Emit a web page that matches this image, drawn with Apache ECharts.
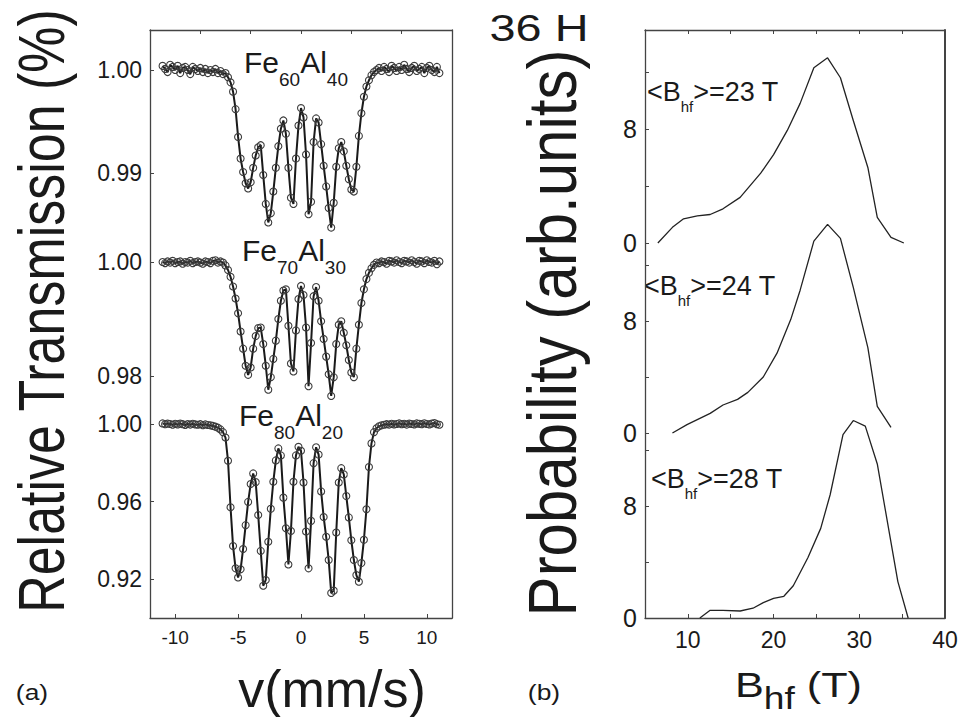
<!DOCTYPE html>
<html>
<head>
<meta charset="utf-8">
<script src="https://cdn.jsdelivr.net/npm/echarts@6.0.0/dist/echarts.min.js"></script>
<style>
  html, body { margin: 0; padding: 0; background: #fff; }
  #chart { width: 962px; height: 717px; }
</style>
</head>
<body>
<div id="chart"></div>
<script>
// velocity channels (mm/s)
const velocity = [
  -11.0, -10.8, -10.6, -10.4, -10.2, -10.0, -9.8, -9.6, -9.4, -9.2,
  -9.0, -8.8, -8.6, -8.4, -8.2, -8.0, -7.8, -7.6, -7.4, -7.2,
  -7.0, -6.8, -6.6, -6.4, -6.2,
  -6.0, -5.8, -5.6, -5.4, -5.2, -5.0, -4.8, -4.6, -4.4, -4.2,
  -4.0, -3.8, -3.6, -3.4, -3.2, -3.0, -2.8, -2.6, -2.4, -2.2,
  -2.0, -1.8, -1.6, -1.4, -1.2, -1.0, -0.8, -0.6, -0.4, -0.2,
  0.0, 0.2, 0.4, 0.6, 0.8, 1.0, 1.2, 1.4, 1.6, 1.8,
  2.0, 2.2, 2.4, 2.6, 2.8, 3.0, 3.2, 3.4, 3.6, 3.8,
  4.0, 4.2, 4.4, 4.6, 4.8, 5.0, 5.2, 5.4, 5.6, 5.8,
  6.0,
  6.2, 6.4, 6.6, 6.8, 7.0, 7.2, 7.4, 7.6, 7.8, 8.0,
  8.2, 8.4, 8.6, 8.8, 9.0, 9.2, 9.4, 9.6, 9.8, 10.0,
  10.2, 10.4, 10.6, 10.8, 11.0
];

// Fe60Al40 transmission
const transFe60 = [
  1.0004, 1.0001, 0.9998, 1.0005, 1.0003, 1.0000, 1.0004, 0.9997, 1.0002, 1.0003,
  1.0000, 0.9996, 1.0003, 1.0001, 0.9999, 1.0002, 0.9998, 1.0001, 0.9997, 1.0000,
  0.9998, 1.0001, 0.9997, 0.9999, 0.9996,
  0.9997, 0.9993, 0.9988, 0.9979, 0.9962, 0.9935, 0.9914, 0.9901, 0.9890, 0.9885,
  0.9891, 0.9905, 0.9917, 0.9925, 0.9927, 0.9898, 0.9870, 0.9852, 0.9861, 0.9882,
  0.9905, 0.9926, 0.9943, 0.9951, 0.9938, 0.9905, 0.9876, 0.9870, 0.9914, 0.9946,
  0.9963, 0.9954, 0.9918, 0.9860, 0.9872, 0.9930, 0.9953, 0.9949, 0.9928, 0.9907,
  0.9887, 0.9866, 0.9847, 0.9871, 0.9906, 0.9924, 0.9930, 0.9921, 0.9907, 0.9894,
  0.9884, 0.9882, 0.9906, 0.9936, 0.9958, 0.9974, 0.9984, 0.9990, 0.9995, 0.9998,
  1.0000,
  1.0002, 0.9999, 1.0003, 1.0001, 0.9998, 1.0004, 1.0002, 0.9999, 1.0003, 1.0000,
  1.0005, 1.0001, 0.9998, 1.0002, 1.0004, 0.9999, 1.0001, 1.0003, 0.9997, 1.0002,
  1.0004, 1.0000, 0.9998, 1.0003, 0.9997
];

// Fe70Al30 transmission
const transFe70 = [
  1.0000, 0.9998, 1.0001, 0.9999, 1.0002, 0.9998, 1.0000, 1.0001, 0.9997, 1.0000,
  0.9999, 1.0002, 0.9998, 1.0000, 1.0001, 0.9999, 0.9997, 1.0001, 1.0000, 0.9998,
  1.0002, 1.0003, 0.9999, 1.0001, 0.9999,
  0.9994, 0.9986, 0.9974, 0.9957, 0.9936, 0.9910, 0.9878, 0.9848, 0.9818, 0.9802,
  0.9815, 0.9848, 0.9870, 0.9884, 0.9885, 0.9856, 0.9818, 0.9776, 0.9798, 0.9830,
  0.9862, 0.9900, 0.9932, 0.9950, 0.9952, 0.9888, 0.9822, 0.9808, 0.9880, 0.9935,
  0.9958, 0.9942, 0.9885, 0.9782, 0.9858, 0.9940, 0.9956, 0.9932, 0.9896, 0.9865,
  0.9834, 0.9803, 0.9765, 0.9798, 0.9856, 0.9890, 0.9896, 0.9876, 0.9854, 0.9828,
  0.9806, 0.9798, 0.9848, 0.9890, 0.9928, 0.9952, 0.9970, 0.9981, 0.9989, 0.9995,
  0.9999,
  0.9998, 1.0001, 1.0000, 0.9997, 1.0002, 1.0001, 0.9999, 1.0003, 1.0000, 0.9998,
  1.0002, 1.0001, 0.9999, 1.0003, 1.0000, 0.9997, 1.0002, 1.0001, 0.9998, 1.0003,
  1.0000, 0.9999, 1.0002, 0.9996, 1.0001
];

// Fe80Al20 transmission
const transFe80 = [
  1.0003, 0.9999, 1.0002, 1.0000, 0.9996, 1.0001, 0.9998, 1.0002, 0.9999, 0.9995,
  1.0000, 0.9997, 1.0001, 0.9998, 0.9996, 0.9999, 0.9994, 0.9998, 0.9995, 0.9993,
  0.9990, 0.9986, 0.9981, 0.9972, 0.9958,
  0.9930, 0.9810, 0.9570, 0.9370, 0.9255, 0.9208, 0.9250, 0.9355, 0.9478, 0.9598,
  0.9690, 0.9745, 0.9700, 0.9530, 0.9345, 0.9165, 0.9195, 0.9392, 0.9562, 0.9702,
  0.9812, 0.9874, 0.9838, 0.9620, 0.9462, 0.9275, 0.9448, 0.9702, 0.9838, 0.9882,
  0.9862, 0.9698, 0.9445, 0.9255, 0.9500, 0.9798, 0.9880, 0.9842, 0.9652, 0.9520,
  0.9418, 0.9298, 0.9128, 0.9140, 0.9440, 0.9698, 0.9772, 0.9740, 0.9628, 0.9518,
  0.9400, 0.9298, 0.9220, 0.9186, 0.9282, 0.9402, 0.9560, 0.9778, 0.9900, 0.9958,
  0.9978,
  0.9988, 0.9993, 0.9996, 0.9999, 0.9997, 1.0001, 0.9998, 1.0000, 1.0003, 0.9999,
  1.0001, 0.9997, 1.0002, 1.0000, 0.9998, 1.0003, 1.0001, 0.9999, 1.0004, 1.0000,
  0.9998, 1.0002, 1.0005, 0.9999, 0.9996
];

// hyperfine field distributions
const bhf23 = [6.5, 8.2, 9.5, 11.1, 12.6, 14.1, 16.1, 18.5, 20.0, 21.6, 23.1, 24.7, 26.3, 27.8, 29.3, 31.0, 32.1, 33.7, 35.2];
const prob23 = [0, 1.1, 1.7, 1.9, 2.0, 2.4, 3.2, 4.9, 6.2, 7.9, 9.8, 12.3, 13.0, 11.6, 8.6, 5.3, 1.8, 0.4, 0];
const bhf24 = [8.2, 9.9, 12.6, 14.1, 15.8, 17.0, 18.8, 20.4, 22.0, 23.1, 24.7, 26.3, 27.8, 29.3, 31.0, 32.1, 33.7];
const prob24 = [0, 0.6, 1.4, 2.0, 2.4, 2.9, 4.0, 5.7, 8.1, 10.2, 13.7, 14.9, 13.9, 10.4, 6.1, 1.9, 0.4];
const bhf28 = [11.4, 12.6, 14.1, 16.1, 17.6, 18.8, 20.0, 21.2, 22.3, 24.0, 25.5, 26.6, 28.1, 29.3, 30.7, 32.1, 34.5, 35.7];
const prob28 = [0, 0.55, 0.55, 0.5, 0.7, 1.1, 1.4, 1.55, 2.3, 4.3, 6.4, 8.8, 13.1, 14.1, 13.7, 11.0, 2.6, 0];

// tick labels
const vTicks = [-10, -5, 0, 5, 10];
const vTopTicks = [-8, -4, 0, 4, 8];
const transTicks1 = [0.99, 1.00];
const transTicks2 = [0.98, 1.00];
const transTicks3 = [0.92, 0.96, 1.00];
const bTicks = [10, 20, 30, 40];
const bMinorTicks = [10, 15, 20, 25, 30, 35, 40];
const probTicks = [0, 8];
const probMinorTicks = [0, 4, 8, 12];

const FONT = '"Liberation Sans", Arial, Helvetica, sans-serif';
const INK = '#1a1a1a';

const pairs = (xs, ys) => xs.map((x, i) => [x, ys[i]]);

const chart = echarts.init(document.getElementById('chart'), null, { renderer: 'svg' });

const frameLine = { show: true, onZero: false, lineStyle: { color: '#444', width: 1.3 } };
const off = { show: false };

const hiddenX = (grid, min, max) => ({
  gridIndex: grid, type: 'value', min: min, max: max,
  axisLine: { show: false, onZero: false }, axisTick: off, axisLabel: off, splitLine: off
});

const lineOnlyY = (grid, pos, width) => ({
  gridIndex: grid, type: 'value', position: pos, min: 0, max: 1,
  axisLine: { show: true, onZero: false, lineStyle: { color: '#444', width: width || 1.3 } },
  axisTick: off, axisLabel: off, splitLine: off
});

const labelY = (grid, min, max, labels, ticks, fontSize, digits) => ({
  gridIndex: grid, type: 'value', position: 'left', min: min, max: max,
  axisLine: { show: false, onZero: false }, splitLine: off,
  axisTick: { show: true, inside: true, length: 4, customValues: ticks, lineStyle: { color: '#444' } },
  axisLabel: {
    customValues: labels, margin: 8, color: INK, fontFamily: FONT, fontSize: fontSize,
    formatter: v => v.toFixed(digits)
  }
});

// open rings for the measured points, dark line for the fit
const spectrum = (name, axis, data) => ({
  name: name, type: 'line', xAxisIndex: axis, yAxisIndex: axis,
  data: data, clip: false, showSymbol: true, showAllSymbol: true,
  symbol: 'circle', symbolSize: 7,
  itemStyle: { color: 'transparent', borderColor: '#3c3c3c', borderWidth: 1.1 },
  lineStyle: { color: '#1a1a1a', width: 2 },
  animation: false
});

const distribution = (name, axis, data) => ({
  name: name, type: 'line', xAxisIndex: axis, yAxisIndex: axis,
  data: data, clip: false, showSymbol: false,
  lineStyle: { color: '#222', width: 1.3 },
  animation: false
});

const subText = (x, y, main1, sub1, main2, sub2) => ({
  type: 'text', left: x, top: y,
  style: {
    text: '{m|' + main1 + '}{s|' + sub1 + '}{m|' + main2 + '}{s|' + sub2 + '}',
    rich: {
      m: { fontFamily: FONT, fontSize: 30, fill: INK, verticalAlign: 'bottom', padding: [0, 0, 12, 0] },
      s: { fontFamily: FONT, fontSize: 19, fill: INK, verticalAlign: 'bottom' }
    }
  }
});

const bhfText = (x, y, value) => ({
  type: 'text', left: x, top: y,
  style: {
    text: '{m|<B}{s|hf}{m|>=' + value + ' T}',
    rich: {
      m: { fontFamily: FONT, fontSize: 27, fill: INK, verticalAlign: 'bottom', padding: [0, 0, 9, 0] },
      s: { fontFamily: FONT, fontSize: 15, fill: INK, verticalAlign: 'bottom' }
    }
  }
});

const plainText = (x, y, text, size, extra) => Object.assign({
  type: 'text', x: x, y: y,
  style: { text: text, fontFamily: FONT, fontSize: size, fill: INK, align: 'center', verticalAlign: 'middle' }
}, extra || {});

const option = {
  backgroundColor: '#fff',
  animation: false,
  grid: [
    { left: 150, top: 30, width: 302, height: 588 },
    { left: 150, top: 30, width: 302, height: 210 },
    { left: 150, top: 240, width: 302, height: 170 },
    { left: 150, top: 410, width: 302, height: 208 },
    { left: 645, top: 30, width: 300, height: 588 },
    { left: 645, top: 30, width: 300, height: 213 },
    { left: 645, top: 243, width: 300, height: 190 },
    { left: 645, top: 433, width: 300, height: 185 }
  ],
  xAxis: [
    {
      gridIndex: 0, type: 'value', position: 'bottom', min: -12, max: 12,
      axisLine: frameLine, splitLine: off,
      axisTick: { show: true, inside: true, length: 4, customValues: vTicks, lineStyle: { color: '#444' } },
      axisLabel: { customValues: vTicks, margin: 10, color: INK, fontFamily: FONT, fontSize: 19 }
    },
    {
      gridIndex: 0, type: 'value', position: 'top', min: -12, max: 12,
      axisLine: frameLine, splitLine: off, axisLabel: off,
      axisTick: { show: true, inside: true, length: 4, customValues: vTopTicks, lineStyle: { color: '#444' } }
    },
    hiddenX(1, -12, 12),
    hiddenX(2, -12, 12),
    hiddenX(3, -12, 12),
    {
      gridIndex: 4, type: 'value', position: 'bottom', min: 5, max: 40,
      axisLine: frameLine, splitLine: off,
      axisTick: { show: true, inside: true, length: 4, customValues: bMinorTicks, lineStyle: { color: '#444' } },
      axisLabel: { customValues: bTicks, margin: 10, color: INK, fontFamily: FONT, fontSize: 23 }
    },
    {
      gridIndex: 4, type: 'value', position: 'top', min: 5, max: 40,
      axisLine: frameLine, splitLine: off, axisLabel: off,
      axisTick: { show: true, inside: true, length: 4, customValues: bMinorTicks, lineStyle: { color: '#444' } }
    },
    hiddenX(5, 5, 40),
    hiddenX(6, 5, 40),
    hiddenX(7, 5, 40)
  ],
  yAxis: [
    lineOnlyY(0, 'left'),
    lineOnlyY(0, 'right'),
    labelY(1, 0.983495, 1.003883, transTicks1, transTicks1, 23, 2),
    labelY(2, 0.974035, 1.003860, transTicks2, transTicks2, 23, 2),
    labelY(3, 0.899871, 1.007226, transTicks3, transTicks3, 23, 2),
    lineOnlyY(4, 'left'),
    lineOnlyY(4, 'right', 2),
    labelY(5, 0, 14.95, probTicks, probMinorTicks, 25, 0),
    labelY(6, 0, 13.57, probTicks, probMinorTicks, 25, 0),
    labelY(7, 0, 13.21, probTicks, probMinorTicks, 25, 0)
  ],
  series: [
    spectrum('Fe60Al40', 2, pairs(velocity, transFe60)),
    spectrum('Fe70Al30', 3, pairs(velocity, transFe70)),
    spectrum('Fe80Al20', 4, pairs(velocity, transFe80)),
    distribution('23 T', 7, pairs(bhf23, prob23)),
    distribution('24 T', 8, pairs(bhf24, prob24)),
    distribution('28 T', 9, pairs(bhf28, prob28))
  ],
  graphic: [
    plainText(41, 311, 'Relative Transmission (%)', 52, { rotation: Math.PI / 2, scaleY: 1.26 }),
    plainText(552, 333, 'Probability (arb.units)', 60, { rotation: Math.PI / 2, scaleY: 1.15 }),
    plainText(332, 689, 'v(mm/s)', 52),
    plainText(32, 692, '(a)', 22, { scaleX: 1.2 }),
    plainText(544, 692, '(b)', 22, { scaleX: 1.2 }),
    plainText(539, 28, '36 H', 36, { scaleX: 1.3 }),
    {
      type: 'text', x: 735, y: 666, scaleX: 1.2,
      style: {
        text: '{m|B}{s|hf}{m| (T)}',
        rich: {
          m: { fontFamily: FONT, fontSize: 36, fill: INK, verticalAlign: 'bottom', padding: [0, 0, 12, 0] },
          s: { fontFamily: FONT, fontSize: 31, fill: INK, verticalAlign: 'bottom' }
        }
      }
    },
    subText(244, 47, 'Fe', '60', 'Al', '40'),
    subText(242, 235, 'Fe', '70', 'Al', '30'),
    subText(239, 400, 'Fe', '80', 'Al', '20'),
    bhfText(647, 78, 23),
    bhfText(644, 272, 24),
    bhfText(651, 465, 28)
  ]
};

chart.setOption(option);
</script>
</body>
</html>
